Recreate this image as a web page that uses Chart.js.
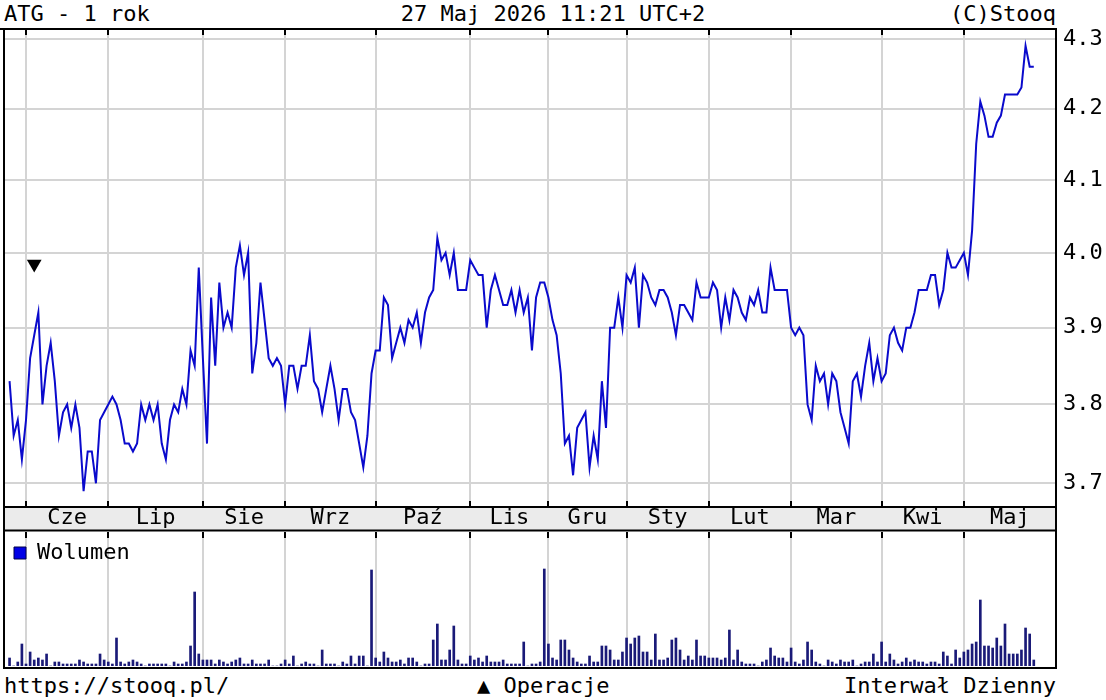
<!DOCTYPE html>
<html><head><meta charset="utf-8">
<script src="https://cdn.jsdelivr.net/npm/chart.js@4.4.1/dist/chart.umd.min.js"></script>
<style>
html,body{margin:0;padding:0;background:#fff;}
body{width:1106px;height:700px;position:relative;overflow:hidden;font-family:"DejaVu Sans Mono",monospace;font-size:22px;color:#000;}
.t{position:absolute;line-height:26px;white-space:pre;}
canvas{position:absolute;left:0;}
</style></head><body>
<div class="t" style="left:4px;top:1px">ATG - 1 rok</div>
<div class="t" style="left:0;width:1106px;text-align:center;top:1px">27 Maj 2026 11:21 UTC+2</div>
<div class="t" style="right:50px;top:1px">(C)Stooq</div>
<canvas id="c1" width="1106" height="532" style="top:0"></canvas>
<canvas id="c2" width="1106" height="137" style="top:532px"></canvas>
<div class="t" style="left:4px;top:673px">https://stooq.pl/</div>
<div class="t" style="left:477px;top:673px">▲ Operacje</div>
<div class="t" style="right:50px;top:673px">Interwał Dzienny</div>
<script>
const FONT = '"DejaVu Sans Mono", monospace';
const GRID = '#d4d4d4';

// daily closing prices, 27 May 2025 .. 27 May 2026 (trading-day index 0..249)
const prices = [
3.83,3.76,3.78,3.73,3.78,3.86,3.89,3.92,3.80,3.85,
3.88,3.83,3.76,3.79,3.80,3.77,3.80,3.77,3.69,3.74,
3.74,3.70,3.78,3.79,3.80,3.81,3.80,3.78,3.75,3.75,
3.74,3.75,3.80,3.78,3.80,3.78,3.80,3.75,3.73,3.78,
3.80,3.79,3.82,3.80,3.87,3.85,3.98,3.86,3.75,3.94,
3.85,3.96,3.90,3.92,3.90,3.98,4.01,3.97,4.00,3.84,
3.88,3.96,3.91,3.86,3.85,3.86,3.85,3.80,3.85,3.85,
3.82,3.85,3.85,3.89,3.83,3.82,3.79,3.82,3.85,3.82,
3.78,3.82,3.82,3.79,3.78,3.75,3.72,3.76,3.84,3.87,
3.87,3.94,3.93,3.86,3.88,3.90,3.88,3.91,3.90,3.92,
3.88,3.92,3.94,3.95,4.02,3.99,4.00,3.97,4.00,3.95,
3.95,3.95,3.99,3.98,3.97,3.97,3.90,3.95,3.97,3.95,
3.93,3.93,3.95,3.92,3.95,3.92,3.94,3.87,3.94,3.96,
3.96,3.94,3.91,3.89,3.84,3.75,3.76,3.71,3.77,3.78,
3.79,3.72,3.76,3.73,3.83,3.77,3.90,3.90,3.94,3.90,
3.97,3.96,3.98,3.90,3.97,3.96,3.94,3.93,3.95,3.95,
3.94,3.92,3.89,3.93,3.93,3.92,3.91,3.96,3.94,3.94,
3.94,3.96,3.95,3.90,3.94,3.91,3.95,3.94,3.92,3.91,
3.94,3.93,3.95,3.92,3.92,3.98,3.95,3.95,3.95,3.95,
3.90,3.89,3.90,3.89,3.80,3.78,3.85,3.83,3.84,3.80,
3.84,3.83,3.79,3.77,3.75,3.83,3.84,3.81,3.85,3.88,
3.83,3.86,3.83,3.84,3.89,3.90,3.88,3.87,3.90,3.90,
3.92,3.95,3.95,3.95,3.97,3.97,3.93,3.95,4.00,3.98,
3.98,3.99,4.00,3.97,4.03,4.15,4.21,4.19,4.16,4.16,
4.18,4.19,4.22,4.22,4.22,4.22,4.23,4.29,4.26,4.26
];

// daily volume (thousands of shares, relative)
const volumes = [
8,0,4,22,2,14,6,8,6,12,
0,4,4,2,2,2,2,6,4,2,
2,2,12,6,4,2,28,4,2,4,
6,4,2,0,2,2,2,2,2,0,
4,2,2,4,20,74,12,6,6,6,
2,6,4,2,4,6,8,2,2,6,
2,2,2,6,0,0,2,6,2,10,
0,2,4,2,2,0,16,2,2,2,
0,4,2,10,2,10,10,0,96,8,
4,14,8,4,4,6,2,8,8,4,
0,2,2,26,42,6,6,16,40,6,
2,2,10,6,8,4,10,4,4,4,
6,2,2,2,2,24,0,2,2,4,
97,22,8,6,26,26,16,8,4,2,
2,10,4,4,20,20,16,6,6,14,
28,22,28,30,14,14,6,32,6,6,
8,26,28,16,6,10,6,26,10,10,
8,8,8,6,8,36,6,16,4,2,
2,2,0,4,6,18,10,8,8,4,
18,4,2,6,24,16,4,2,0,6,
4,2,6,4,4,6,0,2,4,4,
12,4,24,4,12,6,2,4,8,4,
6,4,4,2,4,4,2,14,10,2,
16,8,14,16,22,24,66,20,20,18,
28,20,42,12,12,12,16,38,32,6
];

const monthStarts = [4,24,47,67,89,112,131,150,170,190,212,232];
const monthLabels = ['Cze','Lip','Sie','Wrz','Paź','Lis','Gru','Sty','Lut','Mar','Kwi','Maj'];
const yTicks = [3.7,3.8,3.9,4.0,4.1,4.2,4.3];
const opIdx = [6];
const opVal = [3.985];

const X_MIN = -1.35, X_MAX = 254.4, Y_MIN = 3.6704, Y_MAX = 4.3146;
const monthMid = monthStarts.map((s,k)=> (s + (k+1 < monthStarts.length ? monthStarts[k+1] : X_MAX)) / 2);

function line(ctx, x1, y1, x2, y2, w, c){
  ctx.save(); ctx.strokeStyle = c || '#000'; ctx.lineWidth = w;
  ctx.beginPath(); ctx.moveTo(x1,y1); ctx.lineTo(x2,y2); ctx.stroke(); ctx.restore();
}

const frame1 = {
  id:'frame1',
  beforeDraw(c){
    const ctx = c.ctx, a = c.chartArea;
    ctx.save(); ctx.fillStyle = '#ebebeb';
    ctx.fillRect(a.left, a.bottom, a.right - a.left, 531 - a.bottom);
    ctx.restore();
  },
  afterDraw(c){
    const ctx = c.ctx, a = c.chartArea, sx = c.scales.x;
    line(ctx, 0, 29, a.right + 1, 29, 2);
    line(ctx, a.left, 28, a.left, 532, 2);
    line(ctx, a.right, a.bottom - 1, a.right, 532, 2);
    line(ctx, a.left - 1, 530.5, a.right + 1, 530.5, 2);
    monthStarts.forEach(m => {
      const px = Math.round(sx.getPixelForValue(m));
      line(ctx, px, a.top, px, a.top + 6, 2);
      line(ctx, px, a.bottom - 6, px, a.bottom, 2);
    });
  }
};

const frame2 = {
  id:'frame2',
  afterDraw(c){
    const ctx = c.ctx, a = c.chartArea, sx = c.scales.x;
    line(ctx, a.left, 0, a.left, 137, 2);
    line(ctx, a.right, 0, a.right, 137, 2);
    line(ctx, a.left - 1, 136, a.right + 1, 136, 2);
    monthStarts.forEach(m => {
      const px = Math.round(sx.getPixelForValue(m));
      line(ctx, px, 0, px, 6, 2);
    });
  }
};

new Chart(document.getElementById('c1'), {
  type:'line',
  data:{datasets:[
    {data: prices.map((v,i)=>({x:i, y:v})), borderColor:'#0a0acc', borderWidth:2, pointRadius:0, tension:0, fill:false, order:1},
    {data: opIdx.map((x,k)=>({x:x, y:opVal[k]})), showLine:false, pointStyle:'triangle', rotation:180, pointRadius:8.5,
     pointBackgroundColor:'#000', pointBorderColor:'#000', pointBorderWidth:0, order:0}
  ]},
  options:{
    responsive:false, animation:false, events:[],
    layout:{autoPadding:false, padding:{left:4, top:29, right:0, bottom:0}},
    plugins:{legend:{display:false}, tooltip:{enabled:false}},
    scales:{
      x:{type:'linear', position:'bottom', min:X_MIN, max:X_MAX, bounds:'data',
        afterBuildTicks(s){ s.ticks = monthStarts.map(v=>({value:v})); },
        afterFit(s){ s.height = 0; },
        ticks:{display:false}, grid:{color:GRID, lineWidth:2, drawTicks:false}, border:{display:false}},
      xm:{type:'linear', position:'bottom', min:X_MIN, max:X_MAX, bounds:'data',
        afterBuildTicks(s){ s.ticks = monthMid.map(v=>({value:v})); },
        afterFit(s){ s.height = 25; },
        ticks:{autoSkip:false, maxRotation:0, minRotation:0, padding:0, color:'#000',
          font:{family:FONT, size:22, lineHeight:1}, callback:(v,i)=>monthLabels[i]},
        grid:{display:false, drawTicks:false}, border:{display:true, color:'#000', width:2}},
      y:{type:'logarithmic', position:'right', min:Y_MIN, max:Y_MAX, bounds:'data',
        afterBuildTicks(s){ s.ticks = yTicks.map(v=>({value:v})); },
        afterFit(s){ s.width = 50; },
        ticks:{padding:7, color:'#000', font:{family:FONT, size:22, lineHeight:1}, callback:(v)=>Number(v).toFixed(1)},
        grid:{color:GRID, lineWidth:2, drawTicks:false}, border:{display:true, color:'#000', width:2}}
    }
  },
  plugins:[frame1]
});

new Chart(document.getElementById('c2'), {
  type:'bar',
  data:{datasets:[{label:'Wolumen', data: volumes.map((v,i)=>({x:i, y:v})), backgroundColor:'#1a1a78', borderWidth:0, barThickness:2}]},
  options:{
    responsive:false, animation:false, events:[],
    layout:{autoPadding:false, padding:{left:4, top:0, right:50, bottom:3}},
    plugins:{
      tooltip:{enabled:false},
      legend:{display:true, position:'chartArea', align:'start',
        labels:{boxWidth:12, boxHeight:12, padding:10, color:'#000', font:{family:FONT, size:22},
          generateLabels:()=>[{text:'Wolumen', fillStyle:'#0000e6', strokeStyle:'#00004a', lineWidth:1, hidden:false, datasetIndex:0}]}}
    },
    scales:{
      x:{type:'linear', min:X_MIN, max:X_MAX, bounds:'data', offset:false,
        afterBuildTicks(s){ s.ticks = monthStarts.map(v=>({value:v})); },
        afterFit(s){ s.height = 0; },
        ticks:{display:false}, grid:{color:GRID, lineWidth:2, drawTicks:false, offset:false}, border:{display:false}},
      y:{display:false, min:0, max:134}
    }
  },
  plugins:[frame2]
});
</script>
</body></html>
